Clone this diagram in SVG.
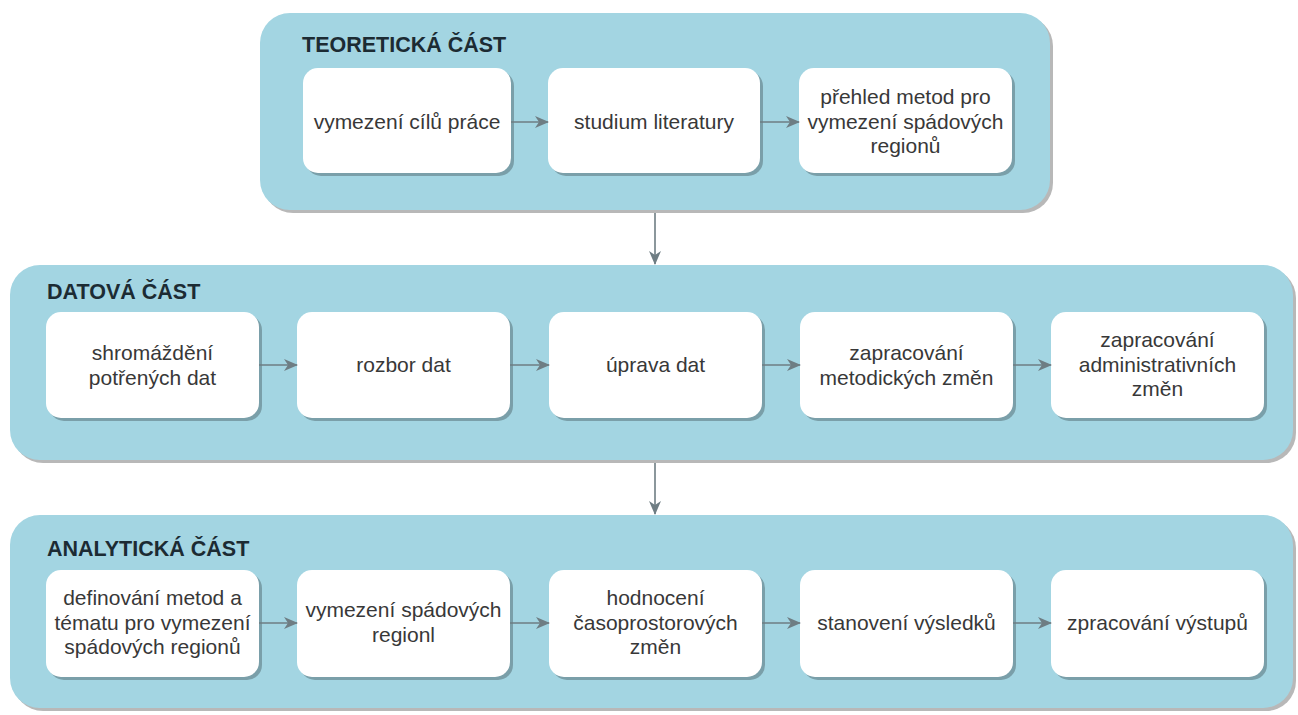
<svg xmlns="http://www.w3.org/2000/svg" width="1298" height="715" viewBox="0 0 1298 715">
<defs>
<style>
.cont{fill:#a3d5e2}
.cshadow{fill:#000;opacity:0.28}
.node{fill:#ffffff}
.nshadow{fill:#000;opacity:0.25}
.title{font-family:"Liberation Sans",Arial,sans-serif;font-weight:bold;font-size:21.5px;fill:#1c2b33}
.lbl{font-family:"Liberation Sans",Arial,sans-serif;font-size:21px;fill:#383838;text-anchor:middle}
.conn{stroke:#6e7d83;stroke-width:1.6;fill:none}
</style>
<marker id="arr" viewBox="0 0 14 12" refX="13" refY="6" markerWidth="14" markerHeight="12" markerUnits="userSpaceOnUse" orient="auto">
<path d="M0,0 L14,6 L0,12 L4,6 Z" fill="#6e7d83"/>
</marker>
</defs>
<rect width="1298" height="715" fill="#ffffff"/>

<g id="teoreticka">
<rect class="cshadow" x="263" y="16" width="790" height="197" rx="30"/>
<rect class="cont" x="260" y="13" width="790" height="197" rx="30"/>
<text class="title" x="302" y="52">TEORETICKÁ ČÁST</text>
</g>
<g id="datova">
<rect class="cshadow" x="13" y="268" width="1283" height="195" rx="30"/>
<rect class="cont" x="10" y="265" width="1283" height="195" rx="30"/>
<text class="title" x="47" y="299">DATOVÁ ČÁST</text>
</g>
<g id="analyticka">
<rect class="cshadow" x="13" y="518" width="1283" height="193" rx="30"/>
<rect class="cont" x="10" y="515" width="1283" height="193" rx="30"/>
<text class="title" x="47" y="556">ANALYTICKÁ ČÁST</text>
</g>

<g id="t1"><rect class="nshadow" x="306" y="71" width="208" height="105" rx="15"/><rect class="node" x="303" y="68" width="208" height="105" rx="15"/>
<text class="lbl" x="407" y="129">vymezení cílů práce</text></g>
<g id="t2"><rect class="nshadow" x="551" y="71" width="212" height="105" rx="15"/><rect class="node" x="548" y="68" width="212" height="105" rx="15"/>
<text class="lbl" x="654" y="129">studium literatury</text></g>
<g id="t3"><rect class="nshadow" x="802" y="71" width="213" height="105" rx="15"/><rect class="node" x="799" y="68" width="213" height="105" rx="15"/>
<text class="lbl" x="905.5" y="104">přehled metod pro</text>
<text class="lbl" x="905.5" y="129">vymezení spádových</text>
<text class="lbl" x="905.5" y="153">regionů</text></g>

<g id="d1"><rect class="nshadow" x="49" y="315" width="213" height="106" rx="15"/><rect class="node" x="46" y="312" width="213" height="106" rx="15"/>
<text class="lbl" x="152.5" y="360">shromáždění</text>
<text class="lbl" x="152.5" y="385">potřených dat</text></g>
<g id="d2"><rect class="nshadow" x="300" y="315" width="213" height="106" rx="15"/><rect class="node" x="297" y="312" width="213" height="106" rx="15"/>
<text class="lbl" x="403.5" y="372">rozbor dat</text></g>
<g id="d3"><rect class="nshadow" x="552" y="315" width="213" height="106" rx="15"/><rect class="node" x="549" y="312" width="213" height="106" rx="15"/>
<text class="lbl" x="655.5" y="372">úprava dat</text></g>
<g id="d4"><rect class="nshadow" x="803" y="315" width="213" height="106" rx="15"/><rect class="node" x="800" y="312" width="213" height="106" rx="15"/>
<text class="lbl" x="906.5" y="360">zapracování</text>
<text class="lbl" x="906.5" y="385">metodických změn</text></g>
<g id="d5"><rect class="nshadow" x="1054" y="315" width="213" height="106" rx="15"/><rect class="node" x="1051" y="312" width="213" height="106" rx="15"/>
<text class="lbl" x="1157.5" y="347">zapracování</text>
<text class="lbl" x="1157.5" y="372">administrativních</text>
<text class="lbl" x="1157.5" y="396">změn</text></g>

<g id="a1"><rect class="nshadow" x="49" y="573" width="213" height="107" rx="15"/><rect class="node" x="46" y="570" width="213" height="107" rx="15"/>
<text class="lbl" x="152.5" y="605">definování metod a</text>
<text class="lbl" x="152.5" y="630">tématu pro vymezení</text>
<text class="lbl" x="152.5" y="654">spádových regionů</text></g>
<g id="a2"><rect class="nshadow" x="300" y="573" width="213" height="107" rx="15"/><rect class="node" x="297" y="570" width="213" height="107" rx="15"/>
<text class="lbl" x="403.5" y="617">vymezení spádových</text>
<text class="lbl" x="403.5" y="642">regionl</text></g>
<g id="a3"><rect class="nshadow" x="552" y="573" width="213" height="107" rx="15"/><rect class="node" x="549" y="570" width="213" height="107" rx="15"/>
<text class="lbl" x="655.5" y="605">hodnocení</text>
<text class="lbl" x="655.5" y="630">časoprostorových</text>
<text class="lbl" x="655.5" y="654">změn</text></g>
<g id="a4"><rect class="nshadow" x="803" y="573" width="213" height="107" rx="15"/><rect class="node" x="800" y="570" width="213" height="107" rx="15"/>
<text class="lbl" x="906.5" y="630">stanovení výsledků</text></g>
<g id="a5"><rect class="nshadow" x="1054" y="573" width="213" height="107" rx="15"/><rect class="node" x="1051" y="570" width="213" height="107" rx="15"/>
<text class="lbl" x="1157.5" y="630">zpracování výstupů</text></g>

<g id="connectors">
<path class="conn" marker-end="url(#arr)" d="M511,122 L548,122"/>
<path class="conn" marker-end="url(#arr)" d="M760,122 L799,122"/>
<path class="conn" marker-end="url(#arr)" d="M259,365 L297,365"/>
<path class="conn" marker-end="url(#arr)" d="M510,365 L549,365"/>
<path class="conn" marker-end="url(#arr)" d="M762,365 L800,365"/>
<path class="conn" marker-end="url(#arr)" d="M1013,365 L1051,365"/>
<path class="conn" marker-end="url(#arr)" d="M259,623 L297,623"/>
<path class="conn" marker-end="url(#arr)" d="M510,623 L549,623"/>
<path class="conn" marker-end="url(#arr)" d="M762,623 L800,623"/>
<path class="conn" marker-end="url(#arr)" d="M1013,623 L1051,623"/>
<path class="conn" marker-end="url(#arr)" d="M655,213 L655,264"/>
<path class="conn" marker-end="url(#arr)" d="M655,463 L655,514"/>
</g>
</svg>
